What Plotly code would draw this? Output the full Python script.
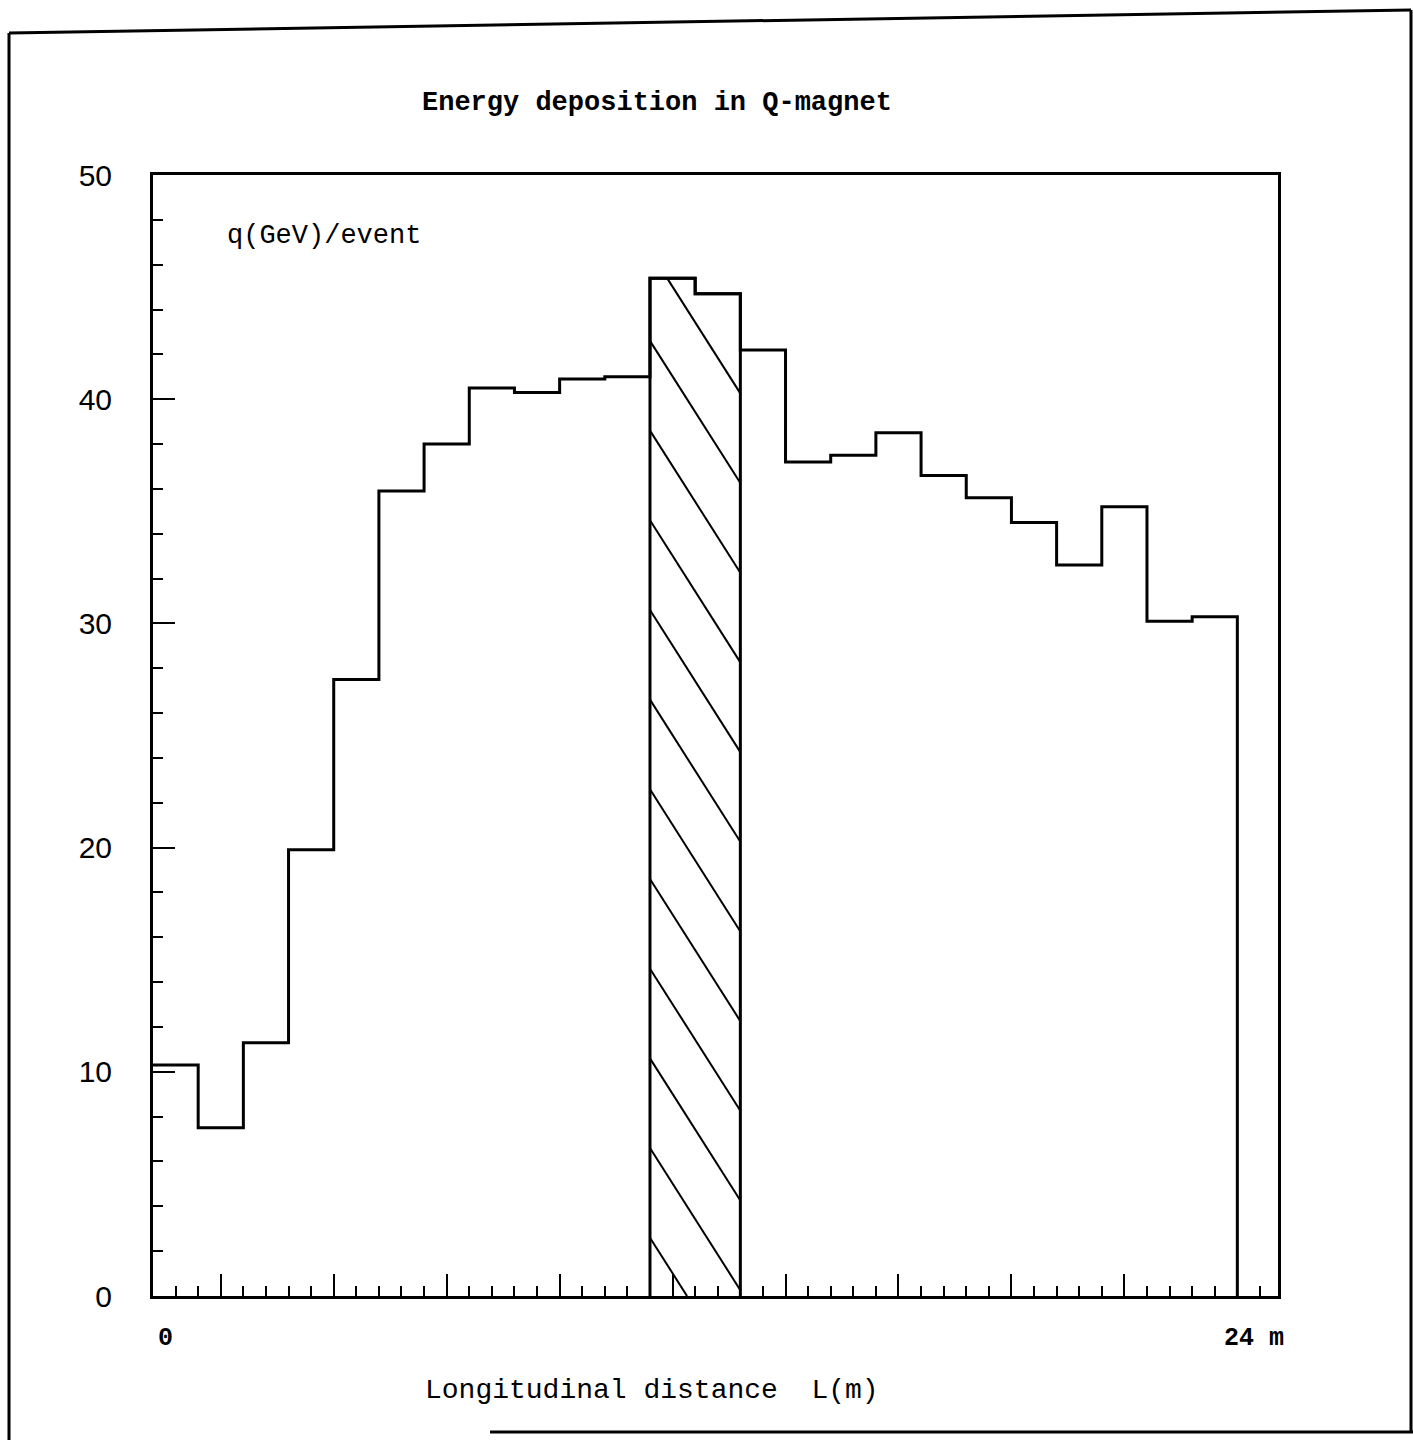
import plotly.graph_objects as go

# ---- data ----
bin_start = [0, 1, 2, 3, 4, 5, 6, 7, 8, 9, 10, 11, 12, 13, 14, 15, 16, 17, 18, 19, 20, 21, 22, 23]
bin_width = 1
energy = [10.3, 7.5, 11.3, 19.9, 27.5, 35.9, 38.0, 40.5, 40.3, 40.9, 41.0,
          45.4, 44.7, 42.2, 37.2, 37.5, 38.5, 36.6, 35.6, 34.5, 32.6, 35.2, 30.1, 30.3]
hatched_bins = [11, 12]   # indices of the hatched (magnet) bins
x_tick_labels = ["0", "24 m"]
x_label_pos = [0, 24]

title_text = "Energy deposition in Q-magnet"
ylabel_text = "q(GeV)/event"
xlabel_text = "Longitudinal\u00a0distance\u00a0\u00a0L(m)"

# hatch style (slope in y-units per metre, spacing in y-units)
hatch_slope = 3.17
hatch_spacing = 4.0
hatch_offset = 2.6
hatch_count = 12

MONO = "Liberation Mono, DejaVu Sans Mono, monospace"
SANS = "Liberation Sans, Arial, sans-serif"

fig = go.Figure()

# hatched region outline (built from the data)
first, last = hatched_bins[0], hatched_bins[-1]
x_lo = bin_start[first]
x_hi = bin_start[last] + bin_width
hx, hy = [x_lo], [0]
for i in hatched_bins:
    hx += [bin_start[i], bin_start[i] + bin_width]
    hy += [energy[i], energy[i]]
hx.append(x_hi); hy.append(0)


def top_at(x):
    for i in hatched_bins:
        if bin_start[i] <= x < bin_start[i] + bin_width:
            return energy[i]
    return energy[last]


# hatch lines clipped to the hatched bins
lx, ly = [], []
for k in range(hatch_count):
    c = hatch_offset + hatch_spacing * k
    # start point: left edge or where the line leaves the top of a bin
    xs = x_lo
    for i in hatched_bins:
        b0, b1 = bin_start[i], bin_start[i] + bin_width
        xs_try = max(b0, x_lo + (c - energy[i]) / hatch_slope)
        if xs_try < b1 and xs_try >= xs:
            xs = xs_try
            break
        xs = b1
    if xs >= x_hi:
        continue
    xe = min(x_hi, x_lo + c / hatch_slope)
    if xe <= xs:
        continue
    lx += [xs, xe, None]
    ly += [c - hatch_slope * (xs - x_lo), c - hatch_slope * (xe - x_lo), None]

fig.add_trace(go.Scatter(x=lx, y=ly, mode="lines", line=dict(color="black", width=2),
                         hoverinfo="skip", showlegend=False, connectgaps=False))
fig.add_trace(go.Scatter(x=hx, y=hy, mode="lines", line=dict(color="black", width=3),
                         hoverinfo="skip", showlegend=False))

# step histogram
sx = bin_start + [bin_start[-1] + bin_width, bin_start[-1] + bin_width]
sy = energy + [energy[-1], 0]
fig.add_trace(go.Scatter(
    x=sx, y=sy, mode="lines", line=dict(color="black", width=3, shape="hv"),
    hoverinfo="skip", showlegend=False))

L, R, T, B = 153, 1278, 175, 1296
W, H = 1413, 1440
pw, ph = R - L, B - T


def px(xp):
    return (xp - L) / pw


def py(yp):
    return (B - yp) / ph


fig.update_layout(
    width=W, height=H,
    margin=dict(l=L, r=W - R, t=T, b=H - B, pad=0),
    paper_bgcolor="white", plot_bgcolor="white",
    showlegend=False,
    xaxis=dict(range=[0, 24.9], showgrid=False, zeroline=False,
               showline=True, linecolor="black", linewidth=3, mirror=True,
               ticks="inside", tick0=1.5, dtick=2.5, ticklen=22, tickwidth=2, tickcolor="black",
               showticklabels=False,
               minor=dict(ticks="inside", tick0=0, dtick=0.5, ticklen=10, tickwidth=2,
                          tickcolor="black", showgrid=False)),
    yaxis=dict(range=[0, 50], showgrid=False, zeroline=False,
               showline=True, linecolor="black", linewidth=3, mirror=True,
               ticks="inside", tick0=0, dtick=10, ticklen=22, tickwidth=2, tickcolor="black",
               tickfont=dict(family=SANS, size=30, color="black"),
               ticklabelstandoff=32,
               minor=dict(ticks="inside", dtick=2, ticklen=10, tickwidth=2,
                          tickcolor="black", showgrid=False)),
)

ann = []
ann.append(dict(text="<b>" + title_text + "</b>", x=px(657), y=py(103), xref="paper", yref="paper",
                xanchor="center", yanchor="middle", showarrow=False,
                font=dict(family=MONO, size=27, color="black")))
ann.append(dict(text=ylabel_text, x=px(225), y=py(236), xref="paper", yref="paper",
                xanchor="left", yanchor="middle", showarrow=False,
                font=dict(family=MONO, size=27, color="black")))
for lbl, xv in zip(x_tick_labels, x_label_pos):
    ann.append(dict(text="<b>" + lbl + "</b>", x=xv, y=py(1338), xref="x", yref="paper",
                    xanchor="left", xshift=3 if xv == 0 else -15, yanchor="middle", showarrow=False,
                    font=dict(family=MONO, size=25, color="black")))
ann.append(dict(text=xlabel_text, x=px(652), y=py(1390), xref="paper", yref="paper",
                xanchor="center", yanchor="middle", showarrow=False,
                font=dict(family=MONO, size=28, color="black")))
fig.update_layout(annotations=ann)

# outer page frame (scan border)
frame = [
    (9, 33, 1411, 10),
    (9, 33, 9, 1440),
    (1411, 10, 1411, 1432),
    (490, 1432, 1413, 1432),
]
shapes = []
for x0, y0, x1, y1 in frame:
    shapes.append(dict(type="line", xref="paper", yref="paper",
                       x0=px(x0), y0=py(y0), x1=px(x1), y1=py(y1),
                       line=dict(color="black", width=3)))
fig.update_layout(shapes=shapes)

fig.write_html("out.html")
